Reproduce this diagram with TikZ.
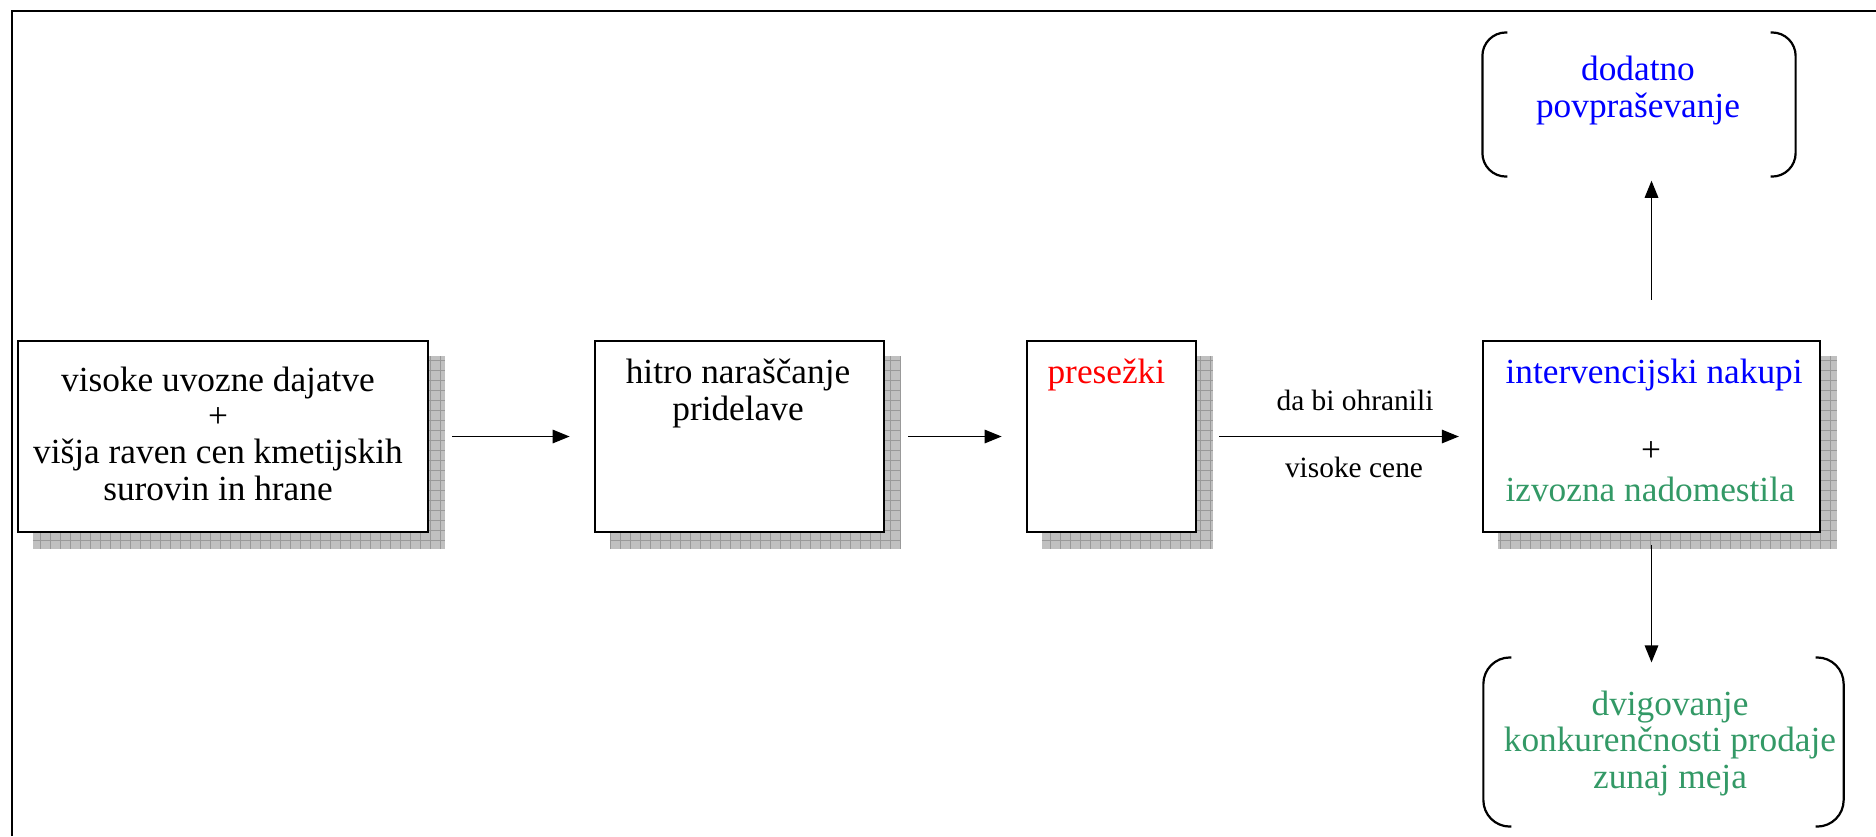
\documentclass[tikz,border=0pt]{standalone}
\usepackage{fontspec}
\setmainfont{Liberation Serif}
\usetikzlibrary{arrows.meta,backgrounds}
\definecolor{seagreen}{HTML}{339966}
\definecolor{shadowgray}{HTML}{C0C0C0}
\definecolor{shadowline}{HTML}{999999}
\tikzset{
  flowbox/.style={draw=black, line width=0.8pt, fill=white, inner sep=0pt, minimum height=64.9pt},
  flowarrow/.style={line width=0.5pt, -{Triangle[length=5.8pt,width=4.6pt]}},
  boxtext/.style={font=\fontsize{12}{12.35}\selectfont, inner sep=0pt, align=center},
  smalltext/.style={font=\fontsize{10}{12}\selectfont, inner sep=0pt},
  bracket/.style={line width=0.75pt, rounded corners=8pt},
  bracketbox/.style={inner sep=0pt, draw=none},
  framestyle/.style={line width=0.9pt},
}
\begin{document}
\begin{tikzpicture}[x=0.34pt,y=-0.34pt]
\useasboundingbox (0,0) rectangle (1876,836);
% page frame
\draw[framestyle] (12,836) -- (12,11) -- (1876,11);

% main chain of boxes
\node[flowbox, minimum width=139.4pt] (b1) at (223,436.5) {};
\node[flowbox, minimum width=98.3pt]  (b2) at (739.5,436.5) {};
\node[flowbox, minimum width=57.5pt]  (b3) at (1111.5,436.5) {};
\node[flowbox, minimum width=114.6pt] (b4) at (1651.5,436.5) {};

% hatched drop shadows behind the boxes
\begin{scope}[on background layer]
  \foreach \b in {b1,b2,b3,b4}{
    \begin{scope}
      \clip ([shift={(16,16)}]\b.south west) rectangle ([shift={(16,16)}]\b.north east);
      \fill[shadowgray] ([shift={(16,16)}]\b.south west) rectangle ([shift={(16,16)}]\b.north east);
      \draw[shadowline, line width=0.3pt, step=3.4pt] ([shift={(16,16)}]\b.south west) grid ([shift={(16,16)}]\b.north east);
    \end{scope}
  }
\end{scope}

% box texts (base anchor sits on the last line)
\node[boxtext, anchor=base] (t1) at (218,500) {visoke uvozne dajatve\\+\\višja raven cen kmetijskih\\surovin in hrane};
\node[boxtext, anchor=base] (t2) at (738,420) {hitro naraščanje\\pridelave};
\node[boxtext, anchor=base west, text=red] (t3) at (1047,383) {presežki};
\node[boxtext, anchor=base west, text=blue] (t4a) at (1505,383) {intervencijski nakupi};
\node[boxtext, anchor=base] (t4b) at (1651,461) {+};
\node[boxtext, anchor=base west, text=seagreen] (t4c) at (1505,501) {izvozna nadomestila};

% bracketed outcome boxes
\node[bracketbox, minimum width=106.1pt, minimum height=48.6pt] (d1) at (1639,104.5) {};
\node[bracketbox, minimum width=122.1pt, minimum height=57.1pt] (d2) at (1663.5,742) {};
\draw[bracket] ([xshift=8.5pt]d1.north west) -| (d1.south west) -- ([xshift=8.5pt]d1.south west);
\draw[bracket] ([xshift=-8.5pt]d1.north east) -| (d1.south east) -- ([xshift=-8.5pt]d1.south east);
\draw[bracket, rounded corners=9pt] ([xshift=9.5pt]d2.north west) -| (d2.south west) -- ([xshift=9.5pt]d2.south west);
\draw[bracket, rounded corners=9pt] ([xshift=-9.5pt]d2.north east) -| (d2.south east) -- ([xshift=-9.5pt]d2.south east);
\node[boxtext, anchor=base, text=blue] (d1t) at (1638,117) {dodatno\\povpraševanje};
\node[boxtext, anchor=base, text=seagreen] (d2t) at (1670,788) {dvigovanje\\konkurenčnosti prodaje\\zunaj meja};

% connectors
\draw[flowarrow, shorten <=7.8pt, shorten >=8.2pt] (b1) -- (b2);
\draw[flowarrow, shorten <=7.8pt, shorten >=8.2pt] (b2) -- (b3);
\draw[flowarrow, shorten <=7.5pt, shorten >=7.8pt] (b3) -- (b4);
\node[smalltext, anchor=base] (l1) at (1355,410) {da bi ohranili};
\node[smalltext, anchor=base] (l2) at (1354,477) {visoke cene};
\draw[flowarrow, shorten <=13.6pt, shorten >=1.4pt] (b4.north) -- (b4.north |- d1.south);
\draw[flowarrow, shorten <=4pt, shorten >=-1.7pt] (b4.south) -- (b4.south |- d2.north);
\end{tikzpicture}
\end{document}
